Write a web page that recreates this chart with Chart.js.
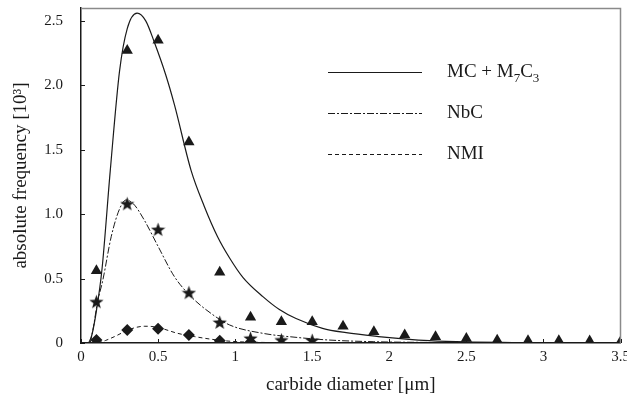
<!DOCTYPE html>
<html>
<head>
<meta charset="utf-8">
<script src="https://cdn.jsdelivr.net/npm/chart.js@4"></script>
<style>
  html, body { margin: 0; padding: 0; background: #fff; }
  #wrap { width: 627px; height: 396px; }
</style>
</head>
<body>
<div id="wrap"><canvas id="grafico" width="627" height="396"></canvas></div>
<script>
// fitted curves
const mcCurveX = [0.05, 0.07, 0.10, 0.136, 0.19, 0.25, 0.30, 0.364, 0.42, 0.477, 0.55, 0.606, 0.714, 0.80, 0.886, 0.964, 1.05, 1.18, 1.287, 1.395, 1.567, 1.72, 1.93, 2.11, 2.26, 2.5, 2.8, 3.1, 3.5];
const mcCurveY = [0, 0.06, 0.25, 0.57, 1.34, 2.11, 2.44, 2.56, 2.50, 2.33, 2.08, 1.85, 1.34, 1.06, 0.825, 0.66, 0.51, 0.36, 0.26, 0.19, 0.114, 0.08, 0.05, 0.03, 0.018, 0.008, 0.004, 0.002, 0.001];

const nbcCurveX = [0.06, 0.08, 0.106, 0.142, 0.196, 0.25, 0.293, 0.34, 0.41, 0.50, 0.606, 0.714, 0.843, 0.964, 1.18, 1.395, 1.61, 1.9, 2.3, 2.8, 3.5];
const nbcCurveY = [0, 0.12, 0.31, 0.49, 0.825, 1.04, 1.11, 1.08, 0.955, 0.75, 0.515, 0.36, 0.23, 0.14, 0.075, 0.044, 0.023, 0.01, 0.004, 0.001, 0];

const nmiCurveX = [0.11, 0.16, 0.218, 0.304, 0.36, 0.41, 0.46, 0.52, 0.627, 0.735, 0.886, 1.016, 1.2, 1.5];
const nmiCurveY = [0, 0.02, 0.05, 0.10, 0.122, 0.13, 0.128, 0.114, 0.075, 0.05, 0.023, 0.01, 0.004, 0.001];

// measured points
const mcPtsX = [0.1, 0.3, 0.5, 0.7, 0.9, 1.1, 1.3, 1.5, 1.7, 1.9, 2.1, 2.3, 2.5, 2.7, 2.9, 3.1, 3.3, 3.5];
const mcPtsY = [0.56, 2.27, 2.35, 1.56, 0.55, 0.20, 0.165, 0.165, 0.13, 0.088, 0.062, 0.048, 0.035, 0.022, 0.018, 0.018, 0.015, 0.01];

const nbcPtsX = [0.1, 0.3, 0.5, 0.7, 0.9, 1.1, 1.3, 1.5];
const nbcPtsY = [0.32, 1.08, 0.88, 0.39, 0.16, 0.036, 0.023, 0.02];

const nmiPtsX = [0.1, 0.3, 0.5, 0.7, 0.9, 1.1];
const nmiPtsY = [0.023, 0.10, 0.11, 0.062, 0.018, 0.008];

const xTicks = [0, 0.5, 1, 1.5, 2, 2.5, 3, 3.5];
const xTickLabels = ['0', '0.5', '1', '1.5', '2', '2.5', '3', '3.5'];
const yTicks = [0, 0.5, 1.0, 1.5, 2.0, 2.5];
const yTickLabels = ['0', '0.5', '1.0', '1.5', '2.0', '2.5'];

const FONTE = "'Liberation Serif', 'Times New Roman', serif";
const COR = '#1a1a1a';

function pares(xs, ys) {
    return xs.map((x, i) => ({ x: x, y: ys[i] }));
}

// filled five point star for the NbC points
function fazerEstrela() {
    const c = document.createElement('canvas');
    c.width = 15; c.height = 15;
    const g = c.getContext('2d');
    g.fillStyle = COR;
    g.beginPath();
    for (let i = 0; i < 10; i++) {
        const r = i % 2 === 0 ? 7.5 : 3.1;
        const a = -Math.PI / 2 + i * Math.PI / 5;
        const px = 7.5 + r * Math.cos(a), py = 8 + r * Math.sin(a);
        if (i === 0) g.moveTo(px, py); else g.lineTo(px, py);
    }
    g.closePath();
    g.fill();
    return c;
}

const legendaItens = [
    { dash: [], texto: ['MC + M', '7', 'C', '3'] },
    { dash: [7, 2, 2, 2], texto: ['NbC'] },
    { dash: [4, 3], texto: ['NMI'] }
];

const molduraELegenda = {
    id: 'molduraELegenda',
    afterDraw(chart) {
        const ctx = chart.ctx;
        const a = chart.chartArea;
        const sx = chart.scales.x, sy = chart.scales.y;
        ctx.save();
        // gray top and right border
        ctx.strokeStyle = '#8a8a8a';
        ctx.lineWidth = 1.5;
        ctx.beginPath();
        ctx.moveTo(a.left, a.top + 0.5);
        ctx.lineTo(a.right, a.top + 0.5);
        ctx.lineTo(a.right, a.bottom);
        ctx.stroke();
        // inward tick marks
        ctx.strokeStyle = COR;
        ctx.lineWidth = 1;
        ctx.beginPath();
        xTicks.forEach(v => {
            const px = Math.round(sx.getPixelForValue(v)) + 0.5;
            ctx.moveTo(px, a.bottom);
            ctx.lineTo(px, a.bottom - 4);
        });
        yTicks.forEach(v => {
            const py = Math.round(sy.getPixelForValue(v)) + 0.5;
            ctx.moveTo(a.left, py);
            ctx.lineTo(a.left + 4, py);
        });
        ctx.stroke();

        // legend
        const x0 = a.left + 247, x1 = a.left + 341, xt = a.left + 366;
        legendaItens.forEach((item, i) => {
            const y = a.top + 64 + i * 41;
            ctx.strokeStyle = COR;
            ctx.lineWidth = 1;
            ctx.setLineDash(item.dash);
            ctx.beginPath();
            ctx.moveTo(x0, y + 0.5);
            ctx.lineTo(x1, y + 0.5);
            ctx.stroke();
            ctx.setLineDash([]);
            ctx.fillStyle = COR;
            ctx.textBaseline = 'middle';
            let cx = xt;
            item.texto.forEach((parte, j) => {
                const sub = j % 2 === 1;
                ctx.font = (sub ? 13 : 19) + 'px ' + FONTE;
                ctx.fillText(parte, cx, sub ? y + 7 : y);
                cx += ctx.measureText(parte).width;
            });
        });
        ctx.restore();
    }
};

const estrela = fazerEstrela();

new Chart(document.getElementById('grafico').getContext('2d'), {
    type: 'scatter',
    data: {
        datasets: [
            { label: 'MC + M7C3', data: pares(mcCurveX, mcCurveY), showLine: true, borderColor: COR, borderWidth: 1.2, pointRadius: 0, cubicInterpolationMode: 'monotone' },
            { label: 'NbC', data: pares(nbcCurveX, nbcCurveY), showLine: true, borderColor: COR, borderWidth: 1, borderDash: [7, 2, 2, 2], pointRadius: 0, cubicInterpolationMode: 'monotone' },
            { label: 'NMI', data: pares(nmiCurveX, nmiCurveY), showLine: true, borderColor: COR, borderWidth: 1, borderDash: [4, 3], pointRadius: 0, cubicInterpolationMode: 'monotone' },
            { label: 'MC pts', data: pares(mcPtsX, mcPtsY), pointStyle: 'triangle', pointRadius: 6.5, backgroundColor: COR, borderColor: COR, borderWidth: 0 },
            { label: 'NbC pts', data: pares(nbcPtsX, nbcPtsY), pointStyle: estrela, backgroundColor: COR, borderColor: COR },
            { label: 'NMI pts', data: pares(nmiPtsX, nmiPtsY), pointStyle: 'rectRot', pointRadius: 6, backgroundColor: COR, borderColor: COR, borderWidth: 0 }
        ]
    },
    options: {
        responsive: false,
        animation: false,
        layout: { padding: { top: 8, right: 5, left: 0, bottom: 0 } },
        plugins: { legend: { display: false }, tooltip: { enabled: false } },
        scales: {
            x: {
                type: 'linear', min: 0, max: 3.5,
                afterBuildTicks: s => { s.ticks = xTicks.map(v => ({ value: v })); },
                afterFit: s => { s.height = 53; s.paddingLeft = 0; s.paddingRight = 0; },
                grid: { display: false, drawTicks: false },
                border: { display: true, color: COR, width: 1.5 },
                ticks: {
                    color: COR, padding: 5, maxRotation: 0,
                    font: { family: FONTE, size: 15 },
                    callback: (v, i) => xTickLabels[i]
                },
                title: { display: true, text: 'carbide diameter [μm]', color: COR, font: { family: FONTE, size: 19 }, padding: { top: 3, bottom: 0 } }
            },
            y: {
                type: 'linear', min: 0, max: 2.6,
                afterBuildTicks: s => { s.ticks = yTicks.map(v => ({ value: v })); },
                afterFit: s => { s.width = 81; s.paddingTop = 0; s.paddingBottom = 0; },
                grid: { display: false, drawTicks: false },
                border: { display: true, color: COR, width: 1.5 },
                ticks: {
                    color: COR, padding: 18,
                    font: { family: FONTE, size: 15 },
                    callback: (v, i) => yTickLabels[i]
                },
                title: { display: true, text: 'absolute frequency [10³]', color: COR, font: { family: FONTE, size: 19 }, padding: { top: 10, bottom: 0 } }
            }
        }
    },
    plugins: [molduraELegenda]
});
</script>
</body>
</html>
